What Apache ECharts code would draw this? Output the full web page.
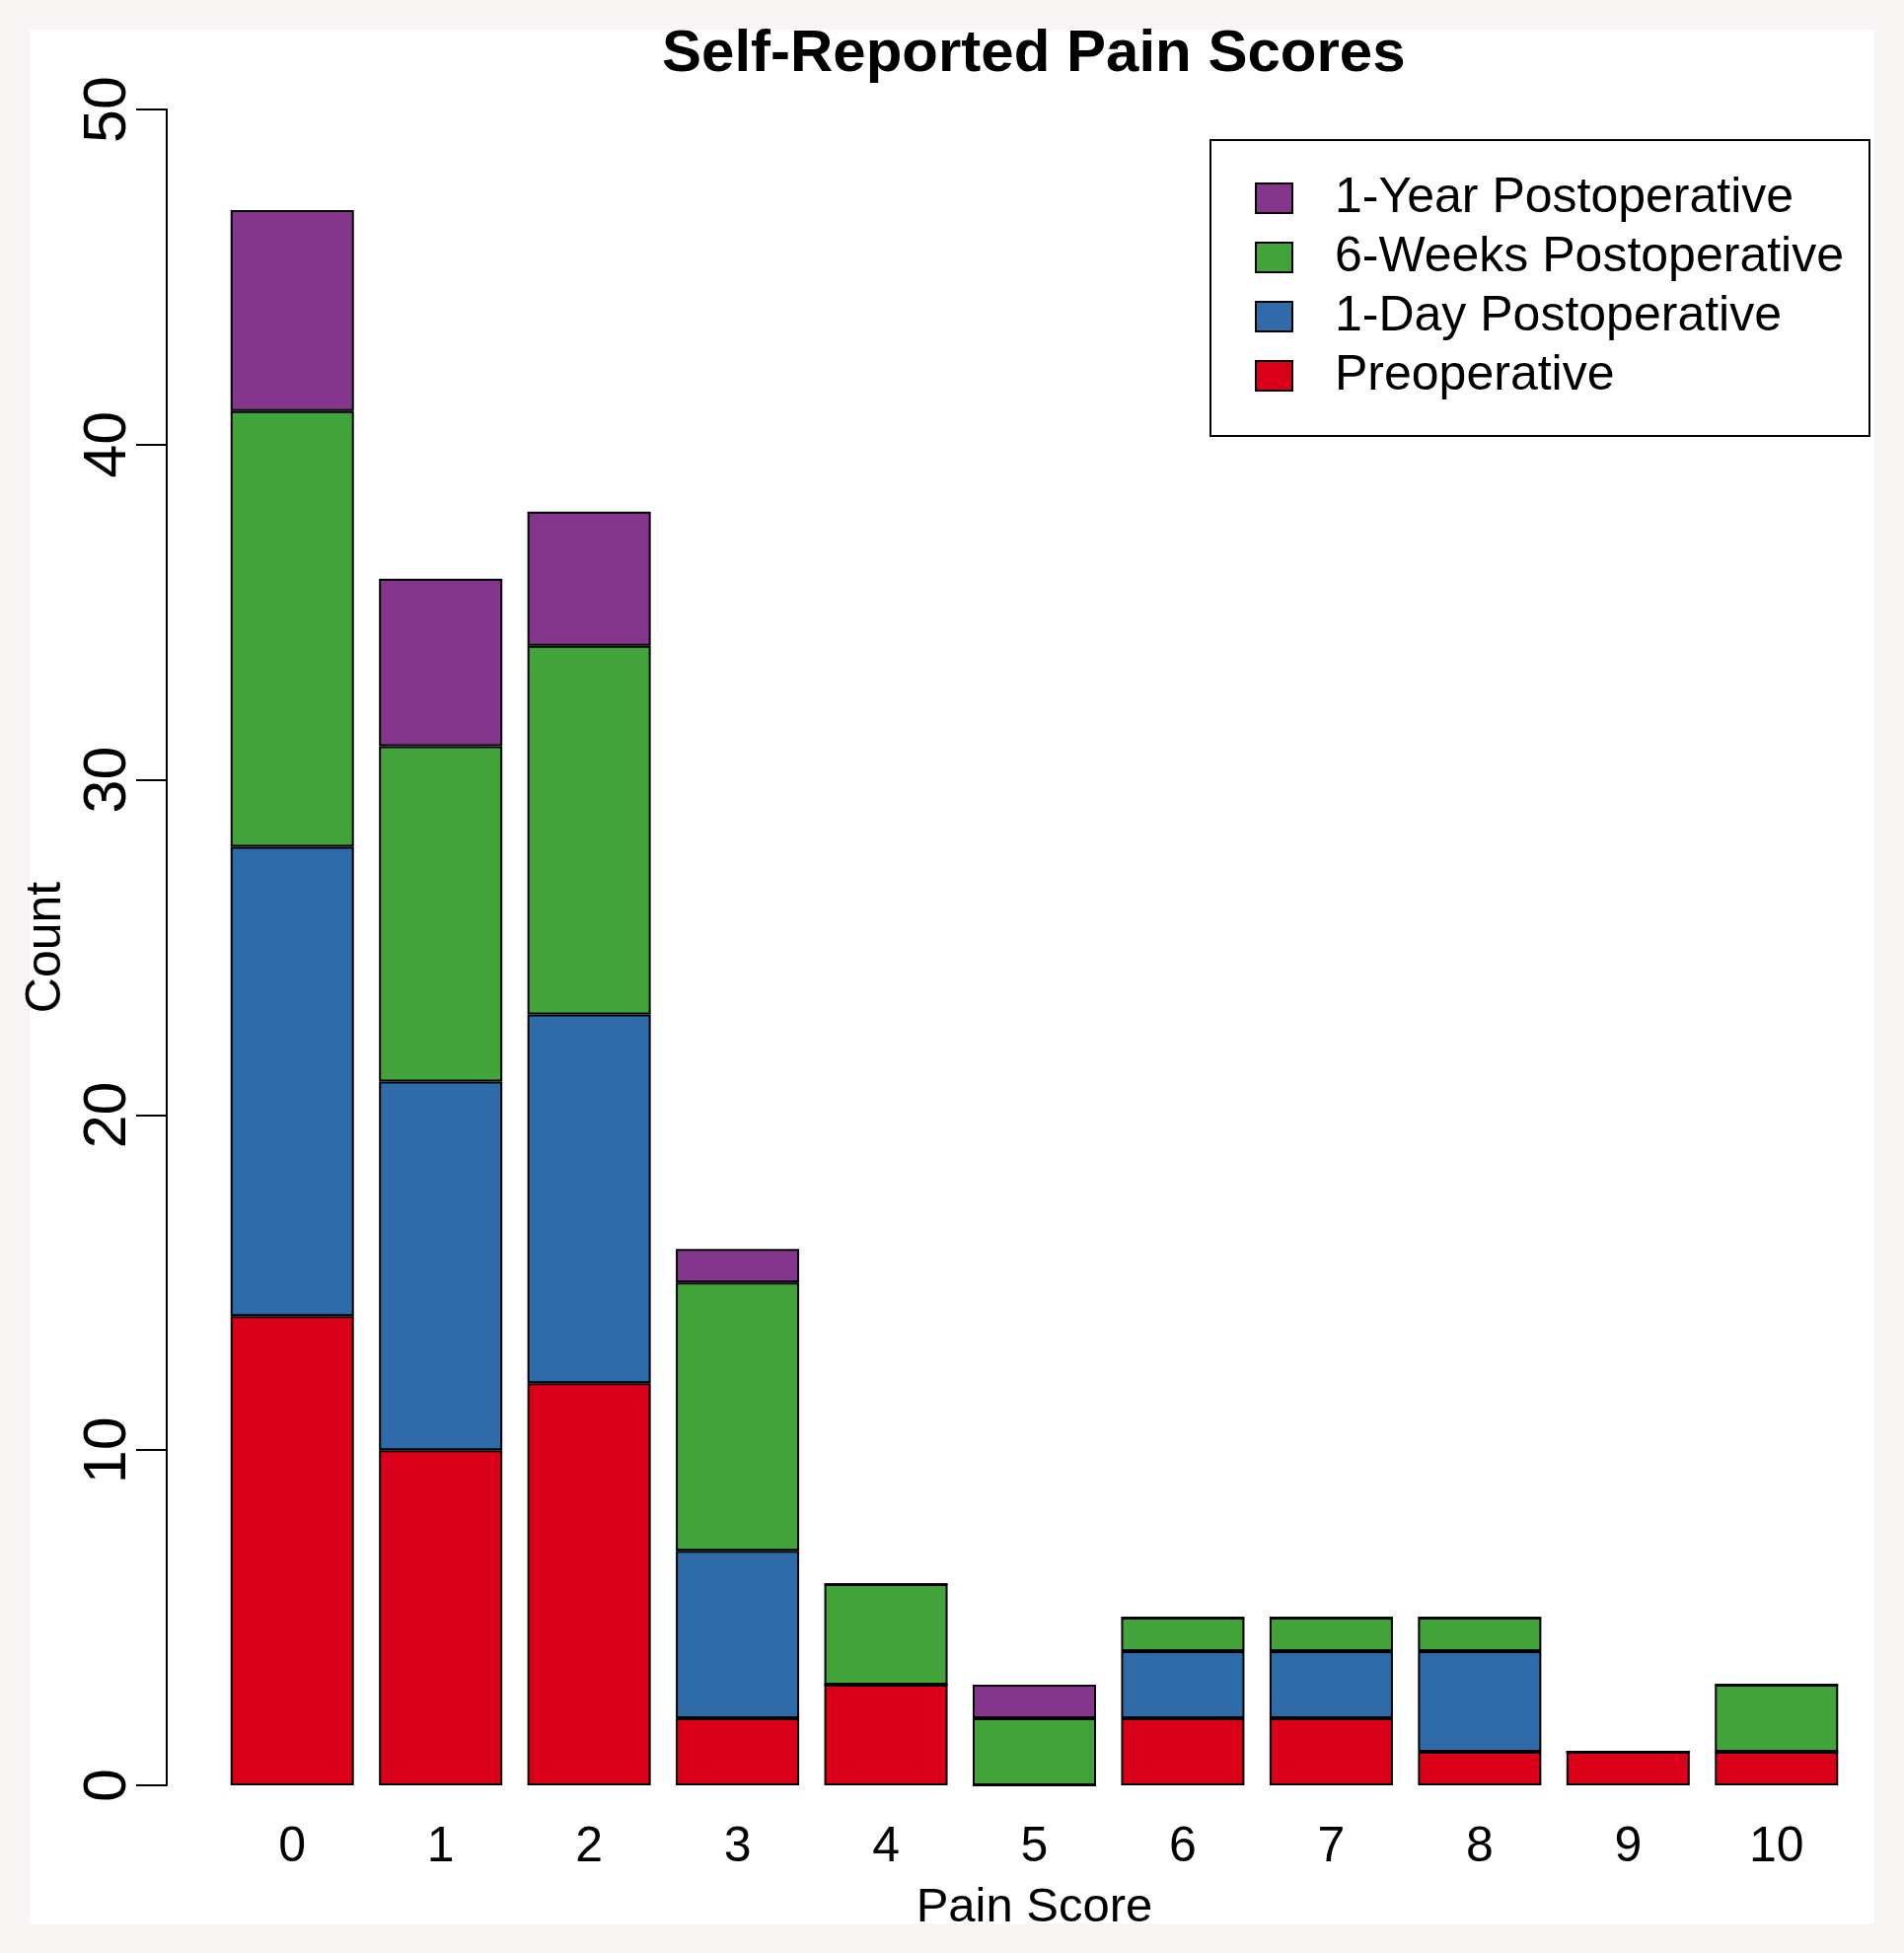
<!DOCTYPE html>
<html>
<head>
<meta charset="utf-8">
<script src="https://cdn.jsdelivr.net/npm/echarts@6/dist/echarts.min.js"></script>
<style>html,body{margin:0;padding:0;background:#F9F5F4;}#c{width:1930px;height:1980px;}</style>
</head>
<body>
<div id="c"></div>
<script>
const categories = ['0','1','2','3','4','5','6','7','8','9','10'];
const preoperative = [14, 10, 12, 2, 3, 0, 2, 2, 1, 1, 1];
const oneDay       = [14, 11, 11, 5, 0, 0, 2, 2, 3, 0, 0];
const sixWeeks     = [13, 10, 11, 8, 3, 2, 1, 1, 1, 0, 2];
const oneYear      = [ 6,  5,  4, 1, 0, 1, 0, 0, 0, 0, 0];
const seriesNames = ['Preoperative', '1-Day Postoperative', '6-Weeks Postoperative', '1-Year Postoperative'];
const seriesColors = ['#DB001A', '#2E6BA8', '#42A33A', '#84368C'];
const seriesData = [preoperative, oneDay, sixWeeks, oneYear];
const yTicks = { min: 0, max: 50, interval: 10 };

const FONT = '"Liberation Sans", Arial, sans-serif';
const chart = echarts.init(document.getElementById('c'), null, { renderer: 'canvas' });

const option = {
  backgroundColor: '#F9F5F4',
  animation: false,
  graphic: [{
    type: 'rect', z: -10, silent: true,
    shape: { x: 30, y: 30, width: 1870, height: 1920 },
    style: { fill: '#FFFFFF' }
  }],
  title: {
    text: 'Self-Reported Pain Scores',
    left: 671, top: 25, padding: 0,
    textStyle: { fontFamily: FONT, fontSize: 60, fontWeight: 'bold', color: '#000' }
  },
  legend: {
    orient: 'vertical',
    left: 1227, top: 142,
    padding: [34, 26, 36, 45],
    borderColor: '#000', borderWidth: 2,
    itemWidth: 37, itemHeight: 30, itemGap: 10,
    icon: 'rect',
    selectedMode: false,
    itemStyle: { borderColor: '#000', borderWidth: 2 },
    data: ['1-Year Postoperative', '6-Weeks Postoperative', '1-Day Postoperative', 'Preoperative'],
    textStyle: { fontFamily: FONT, fontSize: 50, lineHeight: 46, color: '#000', padding: [4, 0, 0, 38] }
  },
  grid: { left: 221, right: 54, top: 111, bottom: 170, containLabel: false },
  xAxis: {
    type: 'category',
    data: categories,
    axisLine: { show: false },
    axisTick: { show: false },
    axisLabel: { fontFamily: FONT, fontSize: 50, color: '#000', margin: 38 },
    name: 'Pain Score',
    nameLocation: 'middle',
    nameGap: 100,
    nameTextStyle: { fontFamily: FONT, fontSize: 49, color: '#000' }
  },
  yAxis: {
    type: 'value',
    min: yTicks.min, max: yTicks.max, interval: yTicks.interval,
    offset: 52,
    axisLine: { show: true, lineStyle: { color: '#000', width: 2 } },
    axisTick: { show: true, length: 31, lineStyle: { color: '#000', width: 2 } },
    splitLine: { show: false },
    axisLabel: { fontFamily: FONT, fontSize: 61, color: '#000', rotate: 90, margin: 28 },
    name: 'Count',
    nameLocation: 'middle',
    nameRotate: 90,
    nameGap: 84,
    nameTextStyle: { fontFamily: FONT, fontSize: 50, color: '#000' }
  },
  series: seriesNames.map((name, i) => ({
    name: name,
    type: 'bar',
    stack: 'total',
    barWidth: 125,
    data: seriesData[i],
    itemStyle: { color: seriesColors[i], borderColor: '#000', borderWidth: 2 }
  }))
};
chart.setOption(option);
</script>
</body>
</html>
